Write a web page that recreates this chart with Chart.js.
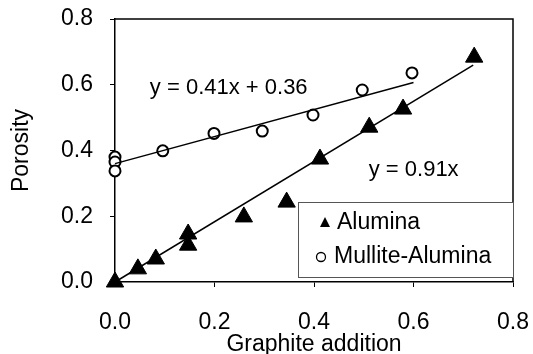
<!DOCTYPE html>
<html>
<head>
<meta charset="utf-8">
<script src="https://cdn.jsdelivr.net/npm/chart.js@4.4.1/dist/chart.umd.min.js"></script>
<style>
  html, body { margin: 0; padding: 0; background: #fff; }
  #wrap { width: 533px; height: 354px; }
</style>
</head>
<body>
<div id="wrap"><canvas id="myChart" width="533" height="354"></canvas></div>
<script>
// data
var aluminaX = [0, 0.046, 0.082, 0.147, 0.147, 0.259, 0.345, 0.412, 0.511, 0.579, 0.722];
var aluminaY = [0, 0.040, 0.070, 0.146, 0.112, 0.198, 0.243, 0.374, 0.471, 0.526, 0.684];
var mulliteX = [0, 0, 0, 0.096, 0.199, 0.296, 0.398, 0.497, 0.597];
var mulliteY = [0.38, 0.365, 0.338, 0.399, 0.452, 0.459, 0.508, 0.584, 0.636];
var aluminaFitX = [0, 0.72];
var aluminaFitY = [0, 0.66];
var mulliteFitX = [0, 0.6];
var mulliteFitY = [0.36, 0.607];
var xTicks = [0, 0.2, 0.4, 0.6, 0.8];
var yTicks = [0, 0.2, 0.4, 0.6, 0.8];

function pts(xs, ys) {
  return xs.map(function (x, i) { return {x: x, y: ys[i]}; });
}

var FONT = 'Liberation Sans, Arial, sans-serif';

// frame, equations and legend box
var extras = {
  id: 'extras',
  afterDraw: function (chart) {
    var c = chart.ctx, a = chart.chartArea;
    var sx = chart.scales.x, sy = chart.scales.y;
    c.save();
    c.strokeStyle = '#000';
    c.lineWidth = 1.5;
    c.beginPath();
    c.moveTo(a.left, a.top);
    c.lineTo(a.right, a.top);
    c.lineTo(a.right, a.bottom);
    c.stroke();

    c.fillStyle = '#000';
    c.font = '22px ' + FONT;
    c.textBaseline = 'middle';
    c.fillText('y = 0.41x + 0.36', sx.getPixelForValue(0.07), sy.getPixelForValue(0.59));
    c.fillText('y = 0.91x', sx.getPixelForValue(0.51), sy.getPixelForValue(0.34));

    // legend
    var lx = a.right - 215, ly = a.bottom - 80, lw = 215, lh = 75;
    c.fillStyle = '#fff';
    c.fillRect(lx, ly, lw, lh);
    c.strokeStyle = '#555';
    c.lineWidth = 1;
    c.strokeRect(lx + 0.5, ly + 0.5, lw, lh);
    c.fillStyle = '#000';
    c.font = '23px ' + FONT;
    c.beginPath();
    c.moveTo(lx + 27, ly + 15);
    c.lineTo(lx + 32, ly + 25);
    c.lineTo(lx + 22, ly + 25);
    c.closePath();
    c.fill();
    c.fillText('Alumina', lx + 39, ly + 21);
    c.lineWidth = 1.3;
    c.strokeStyle = '#000';
    c.beginPath();
    c.arc(lx + 23, ly + 55, 4.5, 0, Math.PI * 2);
    c.stroke();
    c.fillText('Mullite-Alumina', lx + 36, ly + 55);
    c.restore();
  }
};

function noPad(s) {
  s.paddingTop = 0;
  s.paddingBottom = 0;
  s.paddingLeft = 0;
  s.paddingRight = 0;
}

var ctx = document.getElementById('myChart').getContext('2d');
var chart = new Chart(ctx, {
  type: 'scatter',
  data: {
    datasets: [
      {
        label: 'Alumina fit',
        data: pts(aluminaFitX, aluminaFitY),
        showLine: true,
        borderColor: '#000',
        borderWidth: 1.5,
        pointRadius: 0
      },
      {
        label: 'Mullite fit',
        data: pts(mulliteFitX, mulliteFitY),
        showLine: true,
        borderColor: '#000',
        borderWidth: 1.5,
        pointRadius: 0
      },
      {
        label: 'Alumina',
        data: pts(aluminaX, aluminaY),
        pointStyle: 'triangle',
        pointRadius: 10,
        backgroundColor: '#000',
        borderColor: '#000',
        borderWidth: 1
      },
      {
        label: 'Mullite-Alumina',
        data: pts(mulliteX, mulliteY),
        pointStyle: 'circle',
        pointRadius: 5.5,
        backgroundColor: '#fff',
        borderColor: '#000',
        borderWidth: 2
      }
    ]
  },
  options: {
    responsive: false,
    animation: false,
    clip: false,
    layout: { padding: { top: 19, right: 20, left: 0, bottom: 0 } },
    plugins: {
      legend: { display: false },
      tooltip: { enabled: false }
    },
    scales: {
      x: {
        type: 'linear',
        min: 0, max: 0.8,
        afterFit: function (s) { s.height = 72; noPad(s); },
        afterBuildTicks: function (s) { s.ticks = xTicks.map(function (v) { return {value: v}; }); },
        border: { display: true, color: '#000', width: 1.5 },
        grid: { drawOnChartArea: false, drawTicks: true, tickLength: 5, color: '#000' },
        ticks: {
          padding: 22,
          color: '#000',
          font: { family: FONT, size: 23 },
          callback: function (v) { return v.toFixed(1); }
        },
        title: {
          display: true,
          text: 'Graphite addition',
          color: '#000',
          font: { family: FONT, size: 23 },
          padding: { top: 0, bottom: -4 }
        }
      },
      y: {
        type: 'linear',
        min: 0, max: 0.8,
        afterFit: function (s) { s.width = 115; noPad(s); },
        afterBuildTicks: function (s) { s.ticks = yTicks.map(function (v) { return {value: v}; }); },
        border: { display: true, color: '#000', width: 1.5 },
        grid: { drawOnChartArea: false, drawTicks: true, tickLength: 5, color: '#000' },
        ticks: {
          padding: 17,
          color: '#000',
          font: { family: FONT, size: 23 },
          callback: function (v) { return v.toFixed(1); }
        },
        title: {
          display: true,
          text: 'Porosity',
          color: '#000',
          font: { family: FONT, size: 23 },
          padding: { top: 8, bottom: 0 }
        }
      }
    }
  },
  plugins: [extras]
});
</script>
</body>
</html>
